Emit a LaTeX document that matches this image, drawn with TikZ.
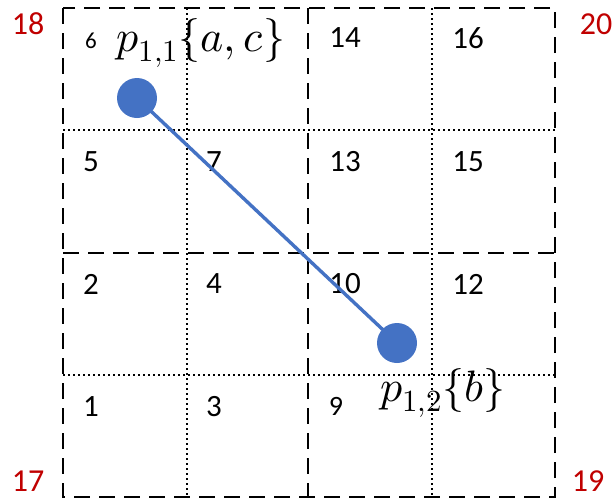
\documentclass[tikz,border=0pt]{standalone}
\usepackage{fontspec}
\usepackage{unicode-math}
\setmainfont{Carlito}
\usetikzlibrary{positioning}
\definecolor{dotblue}{HTML}{4472C4}
\definecolor{cornerred}{HTML}{C00000}
\tikzset{
  cellnum/.style={font=\fontsize{31}{31}\selectfont,inner sep=0pt},
  corner/.style={font=\fontsize{32}{32}\selectfont,text=cornerred,inner sep=0pt},
  halfline/.style={line width=2.7pt,dash pattern=on 16pt off 9pt},
  quarterline/.style={line width=2.5pt,dash pattern=on 2.2pt off 2.8pt},
  point/.style={circle,fill=dotblue,minimum size=40pt,inner sep=0pt},
  pointlabel/.style={font=\fontsize{44}{44}\selectfont,inner sep=0pt},
  link/.style={draw=dotblue,line width=3.4pt}
}

\begin{document}
\begin{tikzpicture}[x=1pt,y=-1pt]
  \useasboundingbox (0,0) rectangle (613,499);

  % quarter lines
  \draw[quarterline] (187,8) -- (187,497);
  \draw[quarterline] (432,8) -- (432,497);
  \draw[quarterline] (63,130) -- (555,130);
  \draw[quarterline] (63,375) -- (555,375);

  % half lines and border
  \draw[halfline] (63,8) rectangle (555,497);
  \draw[halfline] (308,8) -- (308,497);
  \draw[halfline] (63,253) -- (555,253);

  % cell numbers
  \node[cellnum,font=\fontsize{23}{23}\selectfont] (c6) at (91,41) {6};
  \node[cellnum] (c14) at (345,38) {14};
  \node[cellnum] (c16) at (468,38) {16};
  \node[cellnum] (c5) at (91,162) {5};
  \node[cellnum] (c7) at (214,162) {7};
  \node[cellnum] (c13) at (345,162) {13};
  \node[cellnum] (c15) at (468,162) {15};
  \node[cellnum] (c2) at (91,284) {2};
  \node[cellnum] (c4) at (214,284) {4};
  \node[cellnum] (c10) at (345,284) {10};
  \node[cellnum] (c12) at (468,284) {12};
  \node[cellnum] (c1) at (91,407) {1};
  \node[cellnum] (c3) at (214,407) {3};
  \node[cellnum,font=\fontsize{28}{28}\selectfont] (c9) at (336,406) {9};

  % corner numbers
  \node[corner] (k18) at (28,24) {18};
  \node[corner] (k20) at (596,24) {20};
  \node[corner] (k17) at (28,481) {17};
  \node[corner] (k19) at (588,481) {19};

  % points
  \node[point] (p11) at (137,98) {};
  \node[point] (p12) at (397,343) {};
  \path[link] (p11.center) -- (p12.center);
  \node[pointlabel] (l11) at (201,43) {$p_{1,1}\{a,c\}$};
  \node[pointlabel] (l12) at (443,393) {$p_{1,2}\{b\}$};
\end{tikzpicture}
\end{document}
